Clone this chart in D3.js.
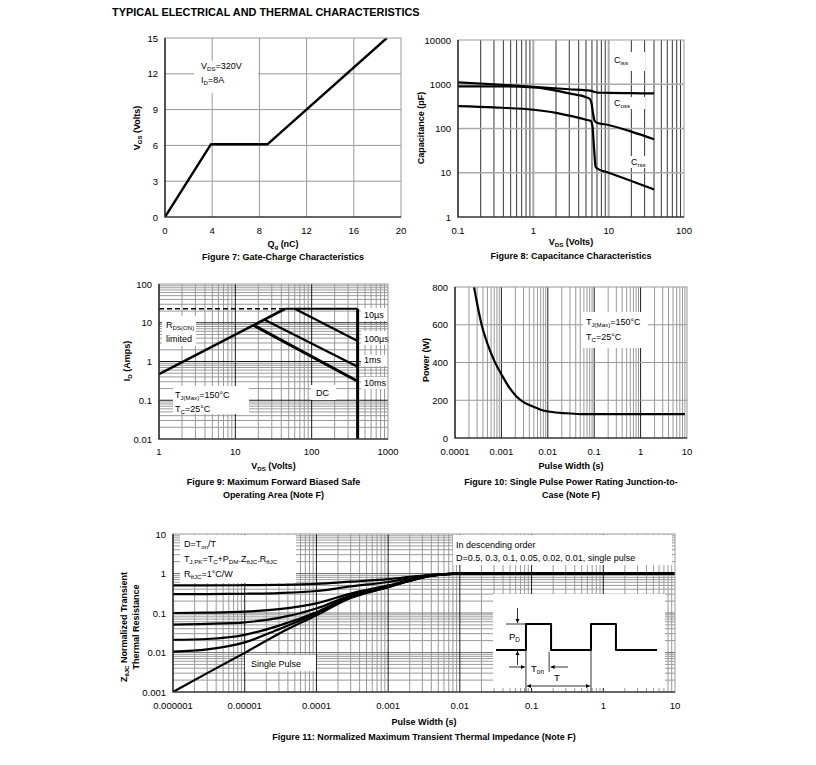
<!DOCTYPE html>
<html>
<head>
<meta charset="utf-8">
<script src="https://cdn.jsdelivr.net/npm/d3@7"></script>
<style>
  body { margin: 0; background: #fff; }
  svg text { font-family: "Liberation Sans", Arial, sans-serif; fill: #000; }
</style>
</head>
<body>
<svg id="chart" width="816" height="765"></svg>
<script>
// ---- Figure 7: gate charge
const gateQ = [0, 3.9, 8.7, 18.8];
const gateV = [0, 6.1, 6.1, 15];
const gateXTicks = [0, 4, 8, 12, 16, 20];
const gateYTicks = [0, 3, 6, 9, 12, 15];

// ---- Figure 8: capacitance
const cissV = [0.1, 0.3, 1, 3, 5, 6, 7, 10, 20, 40];
const cissC = [1100, 1000, 870, 770, 730, 700, 650, 640, 630, 620];
const cossV = [0.1, 0.3, 1, 2, 3, 5, 5.6, 5.9, 6.2, 6.5, 7, 10, 20, 40];
const cossC = [900, 900, 850, 720, 620, 510, 470, 380, 220, 150, 135, 120, 85, 57];
const crssV = [0.1, 0.3, 1, 2, 3, 5, 5.8, 6.1, 6.4, 6.7, 7, 10, 20, 40];
const crssC = [320, 300, 265, 225, 195, 158, 148, 110, 35, 14, 12.5, 10, 6.5, 4.2];
const capXTicks = [0.1, 1, 10, 100];
const capXLabels = ['0.1', '1', '10', '100'];
const capYTicks = [1, 10, 100, 1000, 10000];
const capYLabels = ['1', '10', '100', '1000', '10000'];

// ---- Figure 9: safe operating area
const soaRdsV = [1, 45];      const soaRdsI = [0.47, 23];
const soaLimV = [1, 45];      const soaLimI = [23, 23];
const soa10usV = [45, 400];   const soa10usI = [23, 23];
const soa100usV = [60, 400];  const soa100usI = [23, 3.4];
const soa1msV = [24.5, 400];  const soa1msI = [11.8, 0.73];
const soa10msV = [17.2, 400]; const soa10msI = [8.7, 0.31];
const soaDcV = [400, 400];    const soaDcI = [23, 0.01];
const soaXTicks = [1, 10, 100, 1000];
const soaXLabels = ['1', '10', '100', '1000'];
const soaYTicks = [0.01, 0.1, 1, 10, 100];
const soaYLabels = ['0.01', '0.1', '1', '10', '100'];

// ---- Figure 10: single pulse power
const pulseT = [2.57e-4, 3.76e-4, 5e-4, 7e-4, 1.07e-3, 1.5e-3, 2.14e-3, 3e-3, 4.9e-3, 7e-3, 0.0112, 0.0254, 0.05, 0.1, 1, 9];
const pulseP = [800, 599, 500, 410, 325, 265, 219, 190, 166, 150, 139, 131, 127, 126, 126, 126];
const powXTicks = [1e-4, 1e-3, 0.01, 0.1, 1, 10];
const powXLabels = ['0.0001', '0.001', '0.01', '0.1', '1', '10'];
const powYTicks = [0, 200, 400, 600, 800];

// ---- Figure 11: transient thermal impedance
const zT = [1e-6, 3e-6, 1e-5, 3e-5, 1e-4, 3e-4, 1e-3, 2e-3, 4e-3, 0.01, 0.03, 0.1, 1, 10];
const zD50 = [0.5, 0.5, 0.505, 0.515, 0.545, 0.62, 0.72, 0.82, 0.93, 0.99, 1, 1, 1, 1];
const zD30 = [0.3, 0.302, 0.307, 0.32, 0.36, 0.47, 0.61, 0.75, 0.91, 0.99, 1, 1, 1, 1];
const zD10 = [0.1, 0.102, 0.108, 0.125, 0.175, 0.31, 0.5, 0.68, 0.89, 0.99, 1, 1, 1, 1];
const zD05 = [0.051, 0.053, 0.058, 0.075, 0.13, 0.275, 0.47, 0.67, 0.885, 0.99, 1, 1, 1, 1];
const zD02 = [0.021, 0.022, 0.028, 0.048, 0.105, 0.255, 0.46, 0.66, 0.88, 0.99, 1, 1, 1, 1];
const zD01 = [0.0105, 0.012, 0.018, 0.039, 0.097, 0.25, 0.455, 0.655, 0.88, 0.99, 1, 1, 1, 1];
const zSingle = [0.001, 0.003, 0.0098, 0.03, 0.088, 0.24, 0.45, 0.65, 0.875, 0.99, 1, 1, 1, 1];
const zXTicks = [1e-6, 1e-5, 1e-4, 1e-3, 0.01, 0.1, 1, 10];
const zXLabels = ['0.000001', '0.00001', '0.0001', '0.001', '0.01', '0.1', '1', '10'];
const zYTicks = [0.001, 0.01, 0.1, 1, 10];
const zYLabels = ['0.001', '0.01', '0.1', '1', '10'];

// inset waveform (schematic, normalised time / level)
const waveT = [0, 0.186, 0.186, 0.342, 0.342, 0.59, 0.59, 0.745, 0.745, 1];
const waveL = [0, 0, 1, 1, 0, 0, 1, 1, 0, 0];

const svg = d3.select('#chart');
const defs = svg.append('defs');
let clipN = 0;

// text with _{sub} support
function label(g, x, y, str, o = {}) {
  const t = g.append('text').attr('x', x).attr('y', y)
    .attr('font-size', o.size || 9)
    .attr('font-weight', o.bold ? 'bold' : null)
    .attr('text-anchor', o.anchor || 'start');
  if (o.rotate) t.attr('transform', `rotate(-90,${x},${y})`);
  let down = false;
  str.split(/(_\{[^}]*\})/).forEach(p => {
    if (!p) return;
    if (p.startsWith('_{')) {
      t.append('tspan').attr('font-size', '68%').attr('dy', down ? 0 : 2.2).text(p.slice(2, -1));
      down = true;
    } else {
      t.append('tspan').attr('dy', down ? -2.2 : 0).text(p);
      down = false;
    }
  });
  return t;
}

function box(g, x0, y0, x1, y1) {
  g.append('rect').attr('x', x0).attr('y', y0).attr('width', x1 - x0).attr('height', y1 - y0).attr('fill', '#fff');
}

function logValues(lo, hi) {
  const out = [];
  for (let e = Math.round(Math.log10(lo)); e < Math.round(Math.log10(hi)); e++)
    for (let k = 1; k < 10; k++) out.push({v: k * Math.pow(10, e), dec: k === 1});
  return out;
}

function vGrid(g, x, y, vals, style) {
  vals.forEach(d => {
    const s = style(d);
    if (!s) return;
    g.append('line').attr('x1', x(d.v)).attr('x2', x(d.v)).attr('y1', y.range()[0]).attr('y2', y.range()[1])
      .attr('stroke', s[0]).attr('stroke-width', s[1]);
  });
}
function hGrid(g, x, y, vals, style) {
  vals.forEach(d => {
    const s = style(d);
    if (!s) return;
    g.append('line').attr('y1', y(d.v)).attr('y2', y(d.v)).attr('x1', x.range()[0]).attr('x2', x.range()[1])
      .attr('stroke', s[0]).attr('stroke-width', s[1]);
  });
}

function frame(g, x, y) {
  const [x0, x1] = x.range(), [y0, y1] = y.range();
  g.append('rect').attr('x', x0).attr('y', y1).attr('width', x1 - x0).attr('height', y0 - y1)
    .attr('fill', 'none').attr('stroke', '#999').attr('stroke-width', 1);
  g.append('path').attr('d', `M${x0},${y1}V${y0}H${x1}`).attr('fill', 'none').attr('stroke', '#000').attr('stroke-width', 1.2);
}

function ticks(g, x, y, xt, xl, yt, yl, xLabY) {
  xt.forEach((v, i) => label(g, x(v), xLabY, xl[i], {anchor: 'middle', size: 9.5}));
  yt.forEach((v, i) => label(g, x.range()[0] - 7, y(v) + 3.5, yl[i], {anchor: 'end', size: 9.5}));
}

function clipFor(x, y) {
  const id = 'clip' + (clipN++);
  defs.append('clipPath').attr('id', id).append('rect')
    .attr('x', x.range()[0]).attr('y', y.range()[1])
    .attr('width', x.range()[1] - x.range()[0]).attr('height', y.range()[0] - y.range()[1]);
  return `url(#${id})`;
}

function curve(g, x, y, xs, ys, w, dash, smooth) {
  const line = d3.line().x(i => x(xs[i])).y(i => y(ys[i]));
  if (smooth) line.curve(d3.curveMonotoneX);
  g.append('path').attr('d', line(d3.range(xs.length)))
    .attr('fill', 'none').attr('stroke', '#000').attr('stroke-width', w)
    .attr('stroke-linejoin', 'round').attr('stroke-dasharray', dash || null);
}

label(svg, 112, 16, 'TYPICAL ELECTRICAL AND THERMAL CHARACTERISTICS', {size: 10.9, bold: true});

// ================= Figure 7
{
  const g = svg.append('g');
  const x = d3.scaleLinear().domain([0, 20]).range([165, 401]);
  const y = d3.scaleLinear().domain([0, 15]).range([217, 38]);
  gateXTicks.slice(1, -1).forEach(v => g.append('line').attr('x1', x(v)).attr('x2', x(v)).attr('y1', 38).attr('y2', 217).attr('stroke', '#999'));
  gateYTicks.slice(1, -1).forEach(v => g.append('line').attr('y1', y(v)).attr('y2', y(v)).attr('x1', 165).attr('x2', 401).attr('stroke', '#999'));
  box(g, 194, 61, 258, 93);
  label(g, 201, 69, 'V_{DS}=320V');
  label(g, 201, 83, 'I_{D}=8A');
  const cg = g.append('g').attr('clip-path', clipFor(x, y));
  curve(cg, x, y, gateQ, gateV, 2.4);
  frame(g, x, y);
  ticks(g, x, y, gateXTicks, gateXTicks.map(String), gateYTicks, gateYTicks.map(String), 234);
  label(g, x(10), 247, 'Q_{g} (nC)', {anchor: 'middle', bold: true});
  label(g, x(10), 260, 'Figure 7: Gate-Charge Characteristics', {anchor: 'middle', bold: true});
  label(g, 140, 128, 'V_{GS} (Volts)', {anchor: 'middle', bold: true, rotate: true});
}

// ================= Figure 8
{
  const g = svg.append('g');
  const x = d3.scaleLog().domain([0.1, 100]).range([458, 684]);
  const y = d3.scaleLog().domain([1, 10000]).range([217, 40]);
  vGrid(g, x, y, logValues(0.1, 100), d => d.v === 0.1 ? null : (d.dec ? ['#aaa', 2] : ['#000', 0.8]));
  hGrid(g, x, y, logValues(1, 10000), d => d.dec && d.v !== 1 ? ['#aaa', 1.4] : null);
  box(g, 611, 52, 645, 71);
  box(g, 611, 97, 645, 109);
  box(g, 629, 156, 647, 168);
  label(g, 614, 63, 'C_{iss}');
  label(g, 614, 106, 'C_{oss}');
  label(g, 631, 165, 'C_{rss}');
  const cg = g.append('g').attr('clip-path', clipFor(x, y));
  curve(cg, x, y, cissV, cissC, 2.2, null, true);
  curve(cg, x, y, cossV, cossC, 2.2, null, true);
  curve(cg, x, y, crssV, crssC, 2.2, null, true);
  frame(g, x, y);
  ticks(g, x, y, capXTicks, capXLabels, capYTicks, capYLabels, 234);
  label(g, x(3.16), 245, 'V_{DS} (Volts)', {anchor: 'middle', bold: true});
  label(g, x(3.16), 259, 'Figure 8: Capacitance Characteristics', {anchor: 'middle', bold: true});
  label(g, 424, 128, 'Capacitance (pF)', {anchor: 'middle', bold: true, rotate: true});
}

// ================= Figure 9
{
  const g = svg.append('g');
  const x = d3.scaleLog().domain([1, 1000]).range([159, 388]);
  const y = d3.scaleLog().domain([0.01, 100]).range([439, 284]);
  vGrid(g, x, y, logValues(1, 1000), d => d.v === 1 ? null : (d.dec ? null : ['#999', 1]));
  hGrid(g, x, y, logValues(0.01, 100), d => d.v === 0.01 ? null : (d.dec ? null : ['#999', 1]));
  vGrid(g, x, y, logValues(1, 1000), d => d.dec && d.v !== 1 ? ['#000', 0.9] : null);
  hGrid(g, x, y, logValues(0.01, 100), d => d.dec && d.v !== 0.01 ? ['#000', 0.9] : null);
  box(g, 162, 316, 196, 346);
  label(g, 166, 328, 'R_{DS(ON)}');
  label(g, 166, 342, 'limited');
  box(g, 173, 386, 249, 414);
  label(g, 175, 398, 'T_{J(Max)}=150°C');
  label(g, 175, 412, 'T_{C}=25°C');
  box(g, 311, 385, 336, 400);
  label(g, 316, 396, 'DC');
  [[308, 321, '10µs'], [331, 345, '100µs'], [355, 366, '1ms'], [377, 389, '10ms']].forEach(d => {
    box(g, 361, d[0], 388, d[1]);
    label(g, 364, d[1] - 3, d[2]);
  });
  const cg = g.append('g').attr('clip-path', clipFor(x, y));
  curve(cg, x, y, soaLimV, soaLimI, 1.6, '5,3');
  curve(cg, x, y, soaRdsV, soaRdsI, 2.6);
  curve(cg, x, y, soa10usV, soa10usI, 2.2);
  curve(cg, x, y, soa100usV, soa100usI, 2.2);
  curve(cg, x, y, soa1msV, soa1msI, 2.2);
  curve(cg, x, y, soa10msV, soa10msI, 3);
  curve(cg, x, y, soaDcV, soaDcI, 3);
  frame(g, x, y);
  ticks(g, x, y, soaXTicks, soaXLabels, soaYTicks, soaYLabels, 455);
  label(g, x(31.6), 469, 'V_{DS} (Volts)', {anchor: 'middle', bold: true});
  label(g, x(31.6), 485, 'Figure 9: Maximum Forward Biased Safe', {anchor: 'middle', bold: true});
  label(g, x(31.6), 498, 'Operating Area  (Note F)', {anchor: 'middle', bold: true});
  label(g, 130, 361, 'I_{D} (Amps)', {anchor: 'middle', bold: true, rotate: true});
}

// ================= Figure 10
{
  const g = svg.append('g');
  const x = d3.scaleLog().domain([1e-4, 10]).range([455, 687]);
  const y = d3.scaleLinear().domain([0, 800]).range([438, 287]);
  vGrid(g, x, y, logValues(1e-4, 10), d => d.v === 1e-4 ? null : (d.dec ? ['#000', 0.9] : ['#999', 1]));
  powYTicks.slice(1, -1).forEach(v => g.append('line').attr('y1', y(v)).attr('y2', y(v)).attr('x1', 455).attr('x2', 687).attr('stroke', '#999'));
  box(g, 583, 312, 648, 348);
  label(g, 586, 325, 'T_{J(Max)}=150°C');
  label(g, 586, 340, 'T_{C}=25°C');
  const cg = g.append('g').attr('clip-path', clipFor(x, y));
  curve(cg, x, y, pulseT, pulseP, 2.2, null, true);
  frame(g, x, y);
  ticks(g, x, y, powXTicks, powXLabels, powYTicks, powYTicks.map(String), 455);
  label(g, x(0.0316), 469, 'Pulse Width (s)', {anchor: 'middle', bold: true});
  label(g, x(0.0316), 485, 'Figure 10: Single Pulse Power Rating Junction-to-', {anchor: 'middle', bold: true});
  label(g, x(0.0316), 498, 'Case (Note F)', {anchor: 'middle', bold: true});
  label(g, 429, 360, 'Power (W)', {anchor: 'middle', bold: true, rotate: true});
}

// ================= Figure 11
{
  const g = svg.append('g');
  const x = d3.scaleLog().domain([1e-6, 10]).range([173, 675]);
  const y = d3.scaleLog().domain([0.001, 10]).range([692, 534]);
  vGrid(g, x, y, logValues(1e-6, 10), d => d.dec ? null : ['#999', 1]);
  hGrid(g, x, y, logValues(0.001, 10), d => d.v === 0.001 ? null : (d.dec ? ['#777', 1.2] : ['#999', 1]));
  vGrid(g, x, y, logValues(1e-6, 10), d => d.dec && d.v !== 1e-6 ? ['#000', 0.9] : null);
  box(g, 180, 535, 296, 583);
  label(g, 184, 547, 'D=T_{on}/T');
  label(g, 184, 562, 'T_{J,PK}=T_{C}+P_{DM}.Z_{θJC}.R_{θJC}');
  label(g, 184, 577, 'R_{θJC}=1°C/W');
  box(g, 453, 535, 672, 565);
  label(g, 456, 548, 'In descending order');
  label(g, 456, 561, 'D=0.5, 0.3, 0.1, 0.05, 0.02, 0.01, single pulse');
  box(g, 245, 655, 316, 671);
  label(g, 251, 667, 'Single Pulse');
  const cg = g.append('g').attr('clip-path', clipFor(x, y));
  [zD50, zD30, zD10, zD05, zD02, zD01, zSingle].forEach(s => curve(cg, x, y, zT, s, 2.2, null, true));

  // inset pulse diagram
  box(g, 493, 594, 665, 688);
  const wx = d3.scaleLinear().domain([0, 1]).range([496, 657]);
  const wy = d3.scaleLinear().domain([0, 1]).range([650, 624]);
  curve(g, wx, wy, waveT, waveL, 2);
  const thin = (x1, y1, x2, y2) => g.append('line').attr('x1', x1).attr('y1', y1).attr('x2', x2).attr('y2', y2)
    .attr('stroke', '#000').attr('stroke-width', 0.8);
  const arrow = (x1, y1, x2, y2) => {
    thin(x1, y1, x2, y2);
    const a = Math.atan2(y2 - y1, x2 - x1), L = 4, W = 2;
    const p = [[x2, y2],
      [x2 - L * Math.cos(a) + W * Math.sin(a), y2 - L * Math.sin(a) - W * Math.cos(a)],
      [x2 - L * Math.cos(a) - W * Math.sin(a), y2 - L * Math.sin(a) + W * Math.cos(a)]];
    g.append('path').attr('d', 'M' + p.join('L') + 'Z').attr('fill', '#000');
  };
  thin(506, wy(1), wx(0.186), wy(1));
  arrow(517.5, 608, 517.5, wy(1) - 1);
  arrow(517.5, 665, 517.5, wy(0) + 1);
  label(g, 509, 640, 'P_{D}', {size: 9.5});
  arrow(509, 667, wx(0.186) - 1, 667);
  thin(wx(0.33), 652, wx(0.33), 672);
  arrow(568, 667, wx(0.33) + 1.5, 667);
  label(g, 531, 672, 'T_{on}', {size: 9.5});
  thin(wx(0.186), wy(0), wx(0.186), 692);
  thin(wx(0.59), wy(0), wx(0.59), 692);
  arrow(wx(0.38), 686, wx(0.186) + 1, 686);
  arrow(wx(0.38), 686, wx(0.59) - 1, 686);
  label(g, 554, 681, 'T', {size: 9.5});

  frame(g, x, y);
  ticks(g, x, y, zXTicks, zXLabels, zYTicks, zYLabels, 709);
  label(g, x(3.16e-3), 725, 'Pulse Width (s)', {anchor: 'middle', bold: true});
  label(g, x(3.16e-3), 740, 'Figure 11: Normalized Maximum Transient Thermal Impedance (Note F)', {anchor: 'middle', bold: true});
  label(g, 127, 627, 'Z_{θJC} Normalized Transient', {anchor: 'middle', bold: true, rotate: true});
  label(g, 139, 627, 'Thermal Resistance', {anchor: 'middle', bold: true, rotate: true});
}
</script>
</body>
</html>
